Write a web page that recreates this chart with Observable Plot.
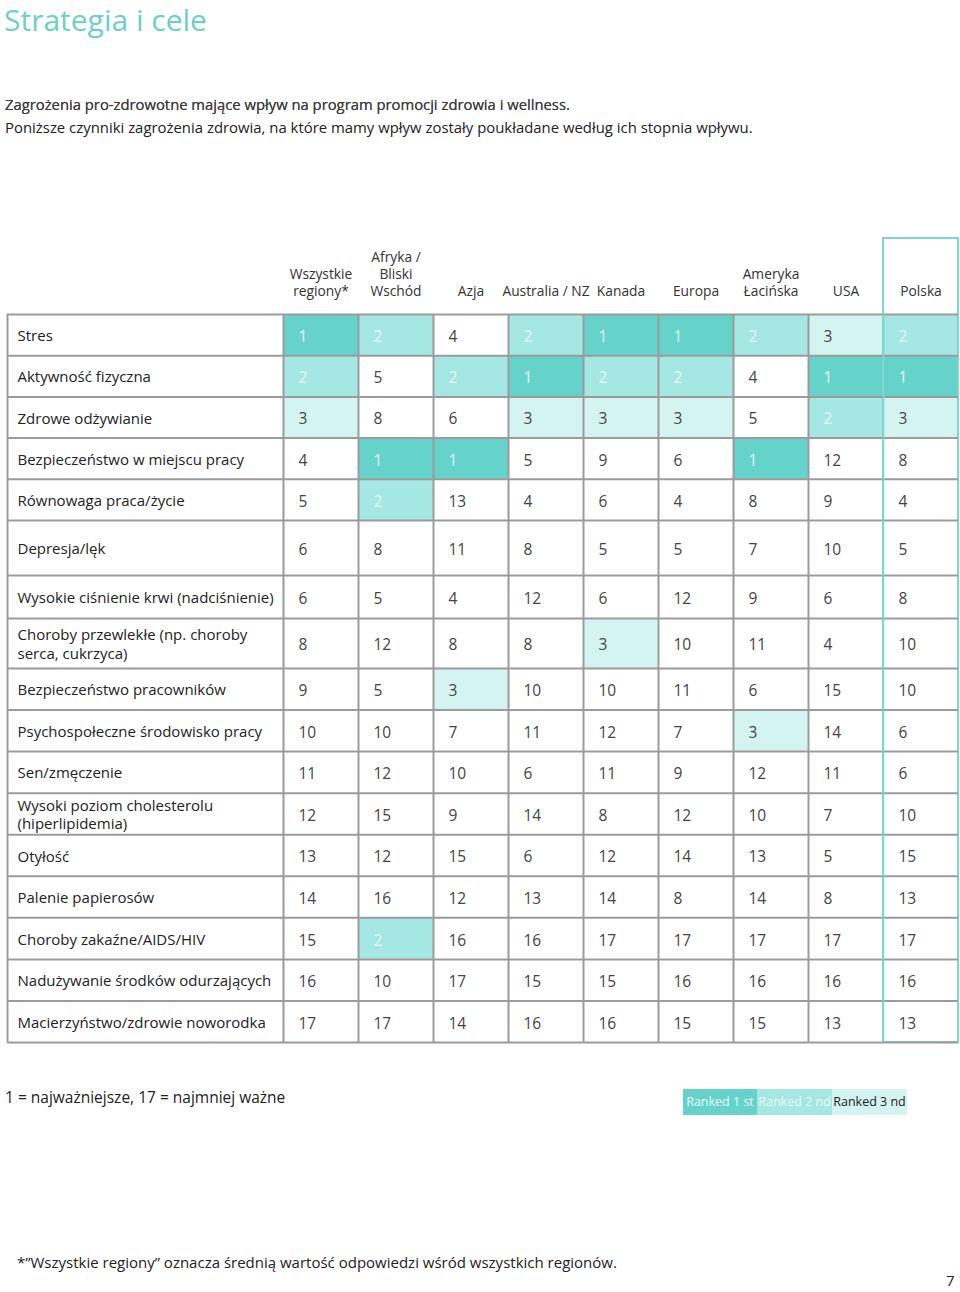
<!DOCTYPE html>
<html><head><meta charset="utf-8">
<script src="https://cdn.jsdelivr.net/npm/d3@7"></script>
<script src="https://cdn.jsdelivr.net/npm/@observablehq/plot@0.6"></script>
<style>
body{margin:0;background:#fff;font-family:"Open Sans",sans-serif;color:#333}
#page{position:relative;width:960px;height:1292px;overflow:hidden;background:#fff}
.abs{position:absolute;white-space:nowrap;line-height:1.2}
#title{left:4px;top:3px;font-size:30px;line-height:1.4;margin-top:-4px;color:#6ccfc8}
#sub1{left:5px;top:96px;font-size:14.8px;color:#3c3c3c;text-shadow:0 0 0.6px #555}
#sub2{left:5px;top:119px;font-size:14.9px;color:#222}
#note{left:5px;top:1088px;font-size:15.5px;color:#222}
#foot{left:17px;top:1253px;font-size:15px;color:#222}
#pnum{left:946px;top:1273px;font-size:15px;line-height:1;color:#222}
#legend{left:683px;top:1089px;display:flex;height:26px}
#legend div{height:26px;line-height:26px;font-size:12.5px;text-align:center}
#chart{left:0;top:230px}
</style></head><body><div id="page">
<div class="abs" id="title">Strategia i cele</div>
<div class="abs" id="sub1">Zagrożenia pro-zdrowotne mające wpływ na program promocji zdrowia i wellness.</div>
<div class="abs" id="sub2">Poniższe czynniki zagrożenia zdrowia, na które mamy wpływ zostały poukładane według ich stopnia wpływu.</div>
<div class="abs" id="chart"></div>
<div class="abs" id="note">1 = najważniejsze, 17 = najmniej ważne</div>
<div class="abs" id="legend"></div>
<div class="abs" id="foot">*”Wszystkie regiony” oznacza średnią wartość odpowiedzi wśród wszystkich regionów.</div>
<div class="abs" id="pnum">7</div>
</div>
<script>
// ---- data ----
const factors = [
  "Stres",
  "Aktywność fizyczna",
  "Zdrowe odżywianie",
  "Bezpieczeństwo w miejscu pracy",
  "Równowaga praca/życie",
  "Depresja/lęk",
  "Wysokie ciśnienie krwi (nadciśnienie)",
  "Choroby przewlekłe (np. choroby\nserca, cukrzyca)",
  "Bezpieczeństwo pracowników",
  "Psychospołeczne środowisko pracy",
  "Sen/zmęczenie",
  "Wysoki poziom cholesterolu\n(hiperlipidemia)",
  "Otyłość",
  "Palenie papierosów",
  "Choroby zakaźne/AIDS/HIV",
  "Nadużywanie środków odurzających",
  "Macierzyństwo/zdrowie noworodka"
];
const regionLabels = ["Wszystkie\nregiony*", "Afryka /\nBliski\nWschód", "Azja", "Australia / NZ", "Kanada", "Europa", "Ameryka\nŁacińska", "USA", "Polska"];
const rankWszystkie = [1,2,3,4,5,6,6,8,9,10,11,12,13,14,15,16,17];
const rankAfryka    = [2,5,8,1,2,8,5,12,5,10,12,15,12,16,2,10,17];
const rankAzja      = [4,2,6,1,13,11,4,8,3,7,10,9,15,12,16,17,14];
const rankAustralia = [2,1,3,5,4,8,12,8,10,11,6,14,6,13,16,15,16];
const rankKanada    = [1,2,3,9,6,5,6,3,10,12,11,8,12,14,17,15,16];
const rankEuropa    = [1,2,3,6,4,5,12,10,11,7,9,12,14,8,17,16,15];
const rankAmeryka   = [2,4,5,1,8,7,9,11,6,3,12,10,13,14,17,16,15];
const rankUSA       = [3,1,2,12,9,10,6,4,15,14,11,7,5,8,17,16,13];
const rankPolska    = [2,1,3,8,4,5,8,10,10,6,6,10,15,13,17,16,13];
const legendLabels = ["Ranked 1 st", "Ranked 2 nd", "Ranked 3 nd"];

// ---- styles ----
const rankColors = ["#66d3cb", "#a5e7e2", "#d4f4f2"];
const gridColor = "#9b9b9b";
const polskaColor = "#7fd6cf";

const columns = [rankWszystkie, rankAfryka, rankAzja, rankAustralia, rankKanada, rankEuropa, rankAmeryka, rankUSA, rankPolska];
const cells = [];
columns.forEach((vals, j) => vals.forEach((v, i) => cells.push({row: i, col: j + 1, rank: v})));

const chart = Plot.plot({
  width: 960,
  height: 820,
  style: {fontFamily: "Open Sans, sans-serif", background: "transparent"},
  x: {type: "linear", domain: [0, 1, 10], range: [7, 283, 958], axis: null},
  y: {type: "linear", domain: [-2, 0, 5, 6, 7, 8, 17], range: [8, 84, 290, 345, 388, 438, 812], axis: null},
  color: {type: "ordinal", domain: [1, 2, 3], range: rankColors},
  marks: [
    Plot.rect(cells.filter(d => d.rank <= 3), {x1: "col", x2: d => d.col + 1, y1: "row", y2: d => d.row + 1, fill: "rank"}),
    Plot.rect([0], {x1: 9, x2: 10, y1: -2, y2: 17, fill: "none", stroke: polskaColor, strokeWidth: 2}),
    Plot.ruleY(d3.range(0, 18), {x1: 0, x2: 10, stroke: gridColor, strokeWidth: 2}),
    Plot.ruleX(d3.range(0, 9), {y1: 0, y2: 17, stroke: gridColor, strokeWidth: 2}),
    Plot.ruleX([9], {y1: 0, y2: 17, stroke: polskaColor, strokeWidth: 1.5}),
    Plot.text(factors, {x: 0, y: (d, i) => i + 0.5, text: d => d, dx: 10, textAnchor: "start", lineAnchor: "middle", fontSize: 15, lineHeight: 1.25, fill: "#222"}),
    Plot.text(regionLabels, {x: (d, i) => i + 1.5, y: -0.5, text: d => d, textAnchor: "middle", lineAnchor: "bottom", fontSize: 13.8, lineHeight: 1.2, fill: "#333"}),
    Plot.text(cells.filter(d => d.rank <= 2), {x: "col", y: d => d.row + 0.5, text: "rank", dx: 15, dy: 2, textAnchor: "start", fontSize: 15.5, fill: "#e4f8f6"}),
    Plot.text(cells.filter(d => d.rank > 2), {x: "col", y: d => d.row + 0.5, text: "rank", dx: 15, dy: 2, textAnchor: "start", fontSize: 15.5, fill: "#444"})
  ]
});
document.getElementById("chart").appendChild(chart);

const legend = document.getElementById("legend");
const legendWidths = [74, 75, 75];
legendLabels.forEach((t, i) => {
  const el = document.createElement("div");
  el.textContent = t;
  el.style.background = rankColors[i];
  el.style.width = legendWidths[i] + "px";
  el.style.color = i < 2 ? "#eafaf8" : "#222";
  legend.appendChild(el);
});
</script>
</body></html>
